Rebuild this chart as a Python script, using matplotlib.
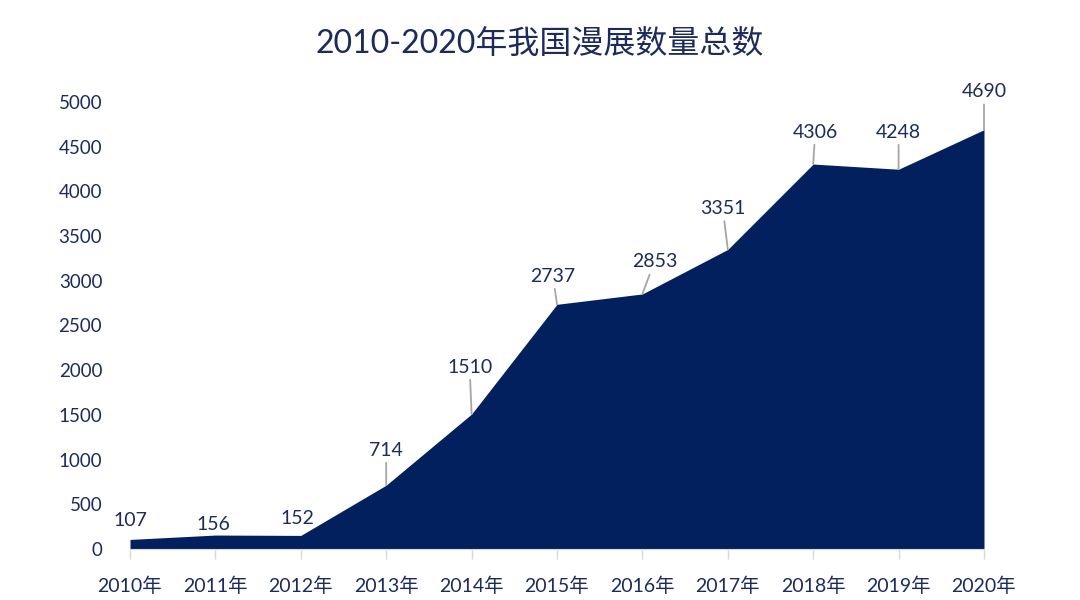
import matplotlib
matplotlib.use("Agg")
import matplotlib.pyplot as plt

plt.rcParams['font.family'] = ['Lato', 'Noto Sans CJK SC', 'DejaVu Sans']

years = ["2010年", "2011年", "2012年", "2013年", "2014年", "2015年",
         "2016年", "2017年", "2018年", "2019年", "2020年"]
counts = [107, 156, 152, 714, 1510, 2737, 2853, 3351, 4306, 4248, 4690]
yticks = [0, 500, 1000, 1500, 2000, 2500, 3000, 3500, 4000, 4500, 5000]
title = "2010-2020年我国漫展数量总数"

# label centre offsets in pixels (dx, dy) relative to data point
label_offsets = [(0, 19), (-2, 11), (-3, 17), (0, 35), (-2, 47), (-4, 28),
                 (12, 32), (-5, 41), (2, 32), (0, 37), (0, 38)]

navy = '#02205e'
text_c = '#1c2b5c'

fig = plt.figure(figsize=(10.8, 6.0), dpi=100)
ax = fig.add_axes([130/1080, 1-549/600, (984-130)/1080, 447/600])

x = list(range(len(years)))
ax.fill_between(x, counts, 0, color=navy, linewidth=0)
ax.set_xlim(0, len(years)-1)
ax.set_ylim(0, 5000)
ax.set_yticks(yticks)
ax.set_yticklabels([str(v) for v in yticks])
ax.set_xticks(x)
ax.set_xticklabels(years)

for s in ['top', 'right', 'left']:
    ax.spines[s].set_visible(False)
ax.spines['bottom'].set_color('#d9d9d9')
ax.tick_params(axis='y', length=0, pad=20, labelsize=13.5, labelcolor=text_c)
ax.tick_params(axis='x', length=7, width=1, color='#d9d9d9', pad=13,
               labelsize=14, labelcolor=text_c)

for xi, v, (dx, dy) in zip(x, counts, label_offsets):
    arrow = dict(arrowstyle='-', color='#a6a6a6', lw=1.3, shrinkA=1, shrinkB=0) if dy > 25 else None
    ax.annotate(str(v), xy=(xi, v), xytext=(dx, dy), textcoords='offset pixels',
                ha='center', va='center', fontsize=14,
                color=text_c, arrowprops=arrow, annotation_clip=False)

fig.text(0.5, 1-45/600, title, ha='center', va='center', fontsize=23, color=text_c)

fig.savefig('out.png', dpi=100)
